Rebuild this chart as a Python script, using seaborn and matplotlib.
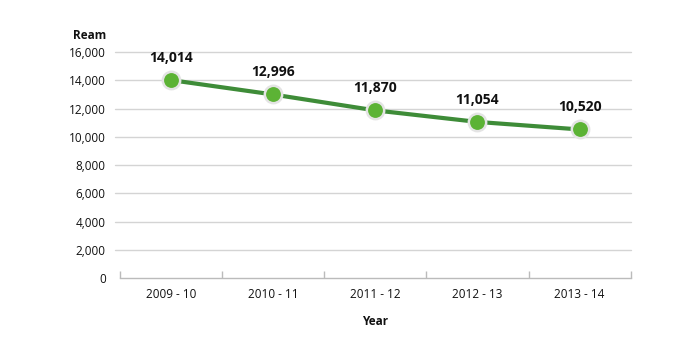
import matplotlib
matplotlib.use("Agg")
import matplotlib.pyplot as plt
import seaborn as sns
import pandas as pd
from matplotlib.ticker import FuncFormatter, FixedLocator

years = ["2009 - 10", "2010 - 11", "2011 - 12", "2012 - 13", "2013 - 14"]
ream = [14014, 12996, 11870, 11054, 10520]

sns.set_theme(style="white")
plt.rcParams['font.family'] = ['Open Sans', 'DejaVu Sans']

df = pd.DataFrame({"Year": years, "Ream": ream})
df["pos"] = range(len(years))

fig = plt.figure(figsize=(7, 3.4), dpi=100)
ax = fig.add_axes([0.171, 0.182, 0.73, 0.665])

sns.lineplot(data=df, x="pos", y="Ream", ax=ax, color="#3e8c38", linewidth=3,
             marker="o", markersize=12.5, markerfacecolor="#5cb335",
             markeredgecolor="#e4e4e4", markeredgewidth=1.8, zorder=3)

for x, v in zip(df["pos"], df["Ream"]):
    ax.annotate(f"{v:,}", (x, v), xytext=(0, 11), textcoords="offset points",
                ha="center", va="bottom", fontsize=10, fontweight="bold", color="#111111")

ax.set_ylim(0, 16000)
ax.set_xlim(-0.5, len(years) - 0.5)
ax.set_yticks(range(0, 16001, 2000))
ax.yaxis.set_major_formatter(FuncFormatter(lambda v, p: f"{int(v):,}"))
ax.set_xticks(df["pos"])
ax.set_xticklabels(years)
ax.xaxis.set_minor_locator(FixedLocator([i - 0.5 for i in range(len(years) + 1)]))
ax.tick_params(axis="x", which="major", length=0, labelsize=8.5, colors="#111111", pad=7)
ax.tick_params(axis="x", which="minor", direction="in", length=5, color="#bbbbbb", width=1, bottom=True)
ax.tick_params(axis="y", length=0, labelsize=8.5, colors="#111111", pad=10)

for y in range(2000, 16001, 2000):
    ax.axhline(y, color="#d4d4d4", linewidth=1, zorder=0, xmin=-0.01, clip_on=False)

for s in ["top", "right", "left"]:
    ax.spines[s].set_visible(False)
ax.spines["bottom"].set_color("#bbbbbb")
ax.spines["bottom"].set_linewidth(1)

ax.set_xlabel("Year", fontsize=8.5, fontweight="bold", labelpad=10, color="#111111")
ax.set_ylabel("")
fig.text(0.105, 0.897, "Ream", fontsize=8.5, fontweight="bold", ha="left", va="center", color="#111111")

fig.savefig("out.png", dpi=100)
